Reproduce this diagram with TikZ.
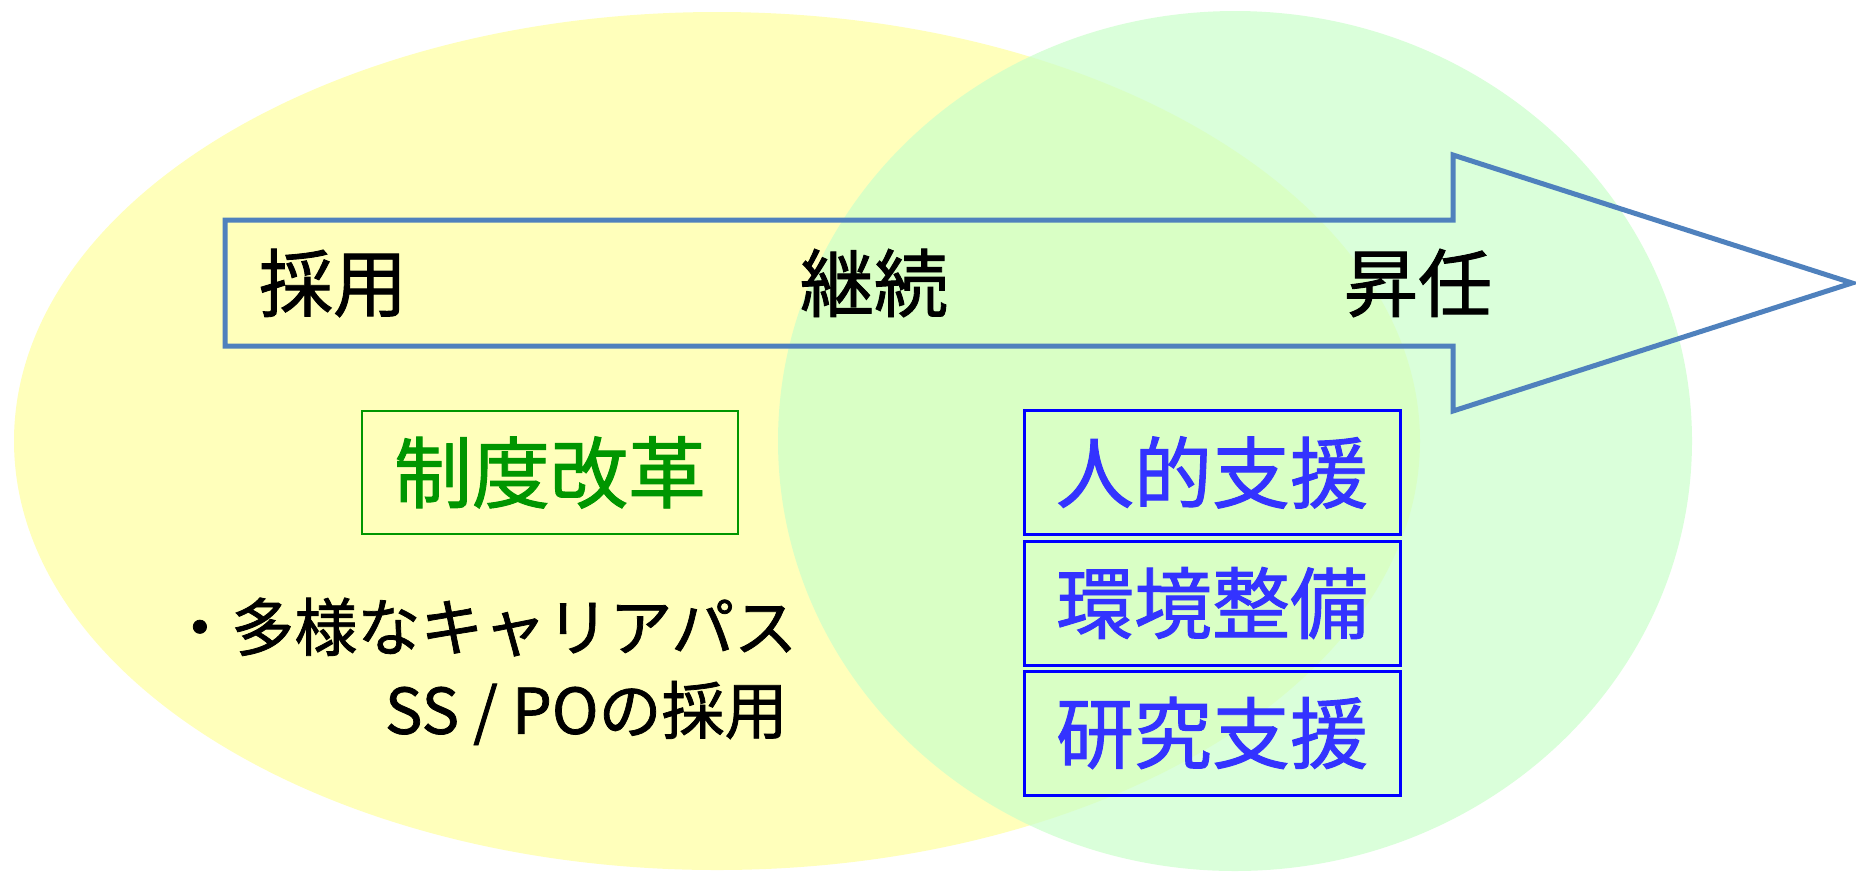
\documentclass[tikz,border=0pt]{standalone}
\usepackage{fontspec}
\newfontfamily\jpfont[FakeBold=1.2]{Noto Sans CJK JP}
\usetikzlibrary{positioning}

\definecolor{paleyellow}{RGB}{255,255,187}
\definecolor{palegreen}{RGB}{202,255,202}
\definecolor{arrowblue}{RGB}{79,129,189}
\definecolor{reformgreen}{RGB}{0,150,0}
\definecolor{supportblue}{RGB}{51,51,255}

\tikzset{
  stage/.style={inner sep=0pt, font=\jpfont\fontsize{37}{44}\selectfont},
  reformbox/.style={draw=reformgreen, line width=1pt, text=reformgreen,
    minimum width=188pt, minimum height=61.5pt, inner sep=0pt,
    font=\jpfont\fontsize{39}{46}\selectfont},
  supportbox/.style={draw=blue, line width=1.5pt, text=supportblue,
    minimum width=188pt, minimum height=62pt, inner sep=0pt,
    font=\jpfont\fontsize{39}{46}\selectfont},
  careerline/.style={inner sep=0pt, font=\jpfont\fontsize{31.5}{43}\selectfont}
}

\begin{document}
\begin{tikzpicture}[x=0.5pt,y=-0.5pt]

      \useasboundingbox (0,0) rectangle (1856,874);

      % two overlapping ovals
      \fill[paleyellow] (717,441) ellipse [x radius=703, y radius=429];
      \fill[palegreen, fill opacity=.7] (1235,441) ellipse [x radius=457, y radius=430];

      % the big arrow
      \draw[arrowblue, line width=2.5pt, line join=miter]
        (225,220) -- (1453,220) -- (1453,155) -- (1852,283)
        -- (1453,411) -- (1453,346) -- (225,346) -- cycle;

      \node[stage] (hire) at (333,283) {採用};
      \node[stage] (keep) at (874,283) {継続};
      \node[stage] (promote) at (1418,283) {昇任};

      % left side: reform
      \node[reformbox] (reform) at (550,472.5) {制度改革};

      \node[careerline, anchor=west] (paths) at (168,627) {・多様なキャリアパス};
      \node[careerline, anchor=east] (sspo) at (788,713) {SS / POの採用};

      % right side: support, stacked
      \node[supportbox] (staff) at (1212,472.5) {人的支援};
      \node[supportbox] (env) at (1212,603) {環境整備};
      \node[supportbox] (research) at (1212,733) {研究支援};

\end{tikzpicture}
\end{document}
